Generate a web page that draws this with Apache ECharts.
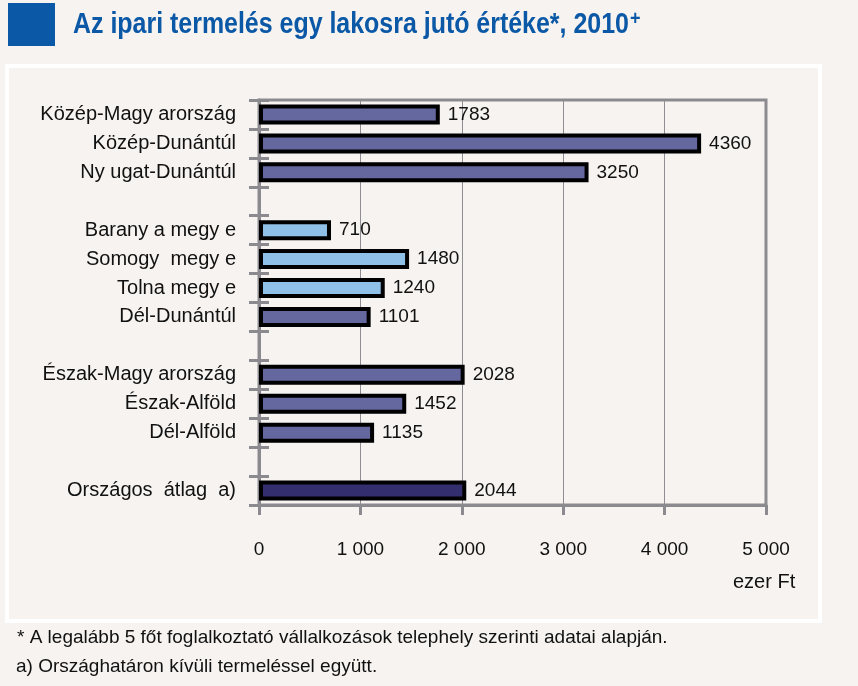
<!DOCTYPE html>
<html>
<head>
<meta charset="utf-8">
<script src="https://cdn.jsdelivr.net/npm/echarts@6/dist/echarts.min.js"></script>
<style>
  html, body { margin: 0; padding: 0; background: #f6f3f0; }
  #chart { width: 858px; height: 686px; }
</style>
</head>
<body>
<div id="chart"></div>
<script>
// categories top to bottom, '' = empty gap row
const categories = [
    'Közép-Magy arország', 'Közép-Dunántúl', 'Ny ugat-Dunántúl', '',
    'Barany a megy e', 'Somogy  megy e', 'Tolna megy e', 'Dél-Dunántúl', '',
    'Észak-Magy arország', 'Észak-Alföld', 'Dél-Alföld', '',
    'Országos  átlag  a)'
]
const values = [1783, 4360, 3250, null, 710, 1480, 1240, 1101, null, 2028, 1452, 1135, null, 2044]
// group of each row: r = region, c = county, n = national average
const groups = ['r', 'r', 'r', '', 'c', 'c', 'c', 'r', '', 'r', 'r', 'r', '', 'n']
const xTicks = [0, 1000, 2000, 3000, 4000, 5000]

const groupColor = { r: '#65679f', c: '#8ec0e8', n: '#332e6e' }
const sans = "'Liberation Sans', Arial, sans-serif"
const axisGray = '#8b8b8f'
const titleBlue = '#0a58a6'

var chartDom = document.getElementById('chart');
var myChart = echarts.init(chartDom);

var barData = values.map((v, i) => ({
    value: v,
    itemStyle: { color: groupColor[groups[i]] || '#65679f' }
}))

var option = {
    backgroundColor: '#f6f3f0',
    animation: false,
    graphic: [
        { type: 'rect', shape: { x: 8, y: 3, width: 47, height: 43 }, style: { fill: titleBlue } },
        {
            type: 'text', x: 73, y: 25, scaleX: 0.86,
            style: { text: 'Az ipari termelés egy lakosra jutó értéke*, 2010', font: "bold 29px " + sans, fill: titleBlue, verticalAlign: 'middle' }
        },
        {
            type: 'text', x: 630, y: 19, scaleX: 0.9,
            style: { text: '+', font: "bold 20px " + sans, fill: titleBlue, verticalAlign: 'middle' }
        },
        { type: 'rect', shape: { x: 7, y: 66, width: 813, height: 555 }, style: { fill: 'none', stroke: '#ffffff', lineWidth: 4 } },
        { type: 'text', left: 733, top: 572, style: { text: 'ezer Ft', font: "20px " + sans, fill: '#111' } },
        { type: 'text', left: 17, top: 628, style: { text: '* A legalább 5 főt foglalkoztató vállalkozások telephely szerinti adatai alapján.', font: "19px " + sans, fill: '#111' } },
        { type: 'text', left: 16, top: 657, style: { text: 'a) Országhatáron kívüli termeléssel együtt.', font: "19px " + sans, fill: '#111' } }
    ],
    grid: {
        left: 259,
        right: 92,
        top: 100,
        bottom: 181,
        show: true,
        borderColor: axisGray,
        borderWidth: 3
    },
    xAxis: {
        type: 'value',
        min: 0,
        max: 5000,
        interval: 1000,
        axisLine: { show: true, lineStyle: { color: axisGray, width: 3 } },
        axisTick: { show: true, length: 10, lineStyle: { color: axisGray, width: 3 } },
        splitLine: { show: true, lineStyle: { color: '#8e8e92', width: 1 } },
        axisLabel: {
            margin: 35,
            fontFamily: sans,
            fontSize: 19,
            color: '#111',
            formatter: v => xTicks.includes(v) ? String(v).replace(/\B(?=(\d{3})+(?!\d))/g, ' ') : ''
        }
    },
    yAxis: [
        {
            type: 'category',
            data: categories,
            inverse: true,
            axisLine: { show: true, lineStyle: { color: axisGray, width: 3 } },
            axisTick: { show: true, length: 10, lineStyle: { color: axisGray, width: 3 } },
            axisLabel: {
                margin: 23,
                fontFamily: sans,
                fontSize: 20,
                color: '#111'
            }
        },
        {
            type: 'category',
            data: categories,
            inverse: true,
            position: 'left',
            axisLine: { show: false },
            axisTick: { show: true, inside: true, length: 10, lineStyle: { color: axisGray, width: 3 } },
            axisLabel: { show: false }
        }
    ],
    series: [
        {
            type: 'bar',
            data: barData,
            barWidth: 20,
            itemStyle: { borderColor: '#000', borderWidth: 4 },
            label: {
                show: true,
                position: 'right',
                distance: 8,
                fontFamily: sans,
                fontSize: 19,
                color: '#111'
            }
        }
    ]
};

option && myChart.setOption(option);
</script>
</body>
</html>
